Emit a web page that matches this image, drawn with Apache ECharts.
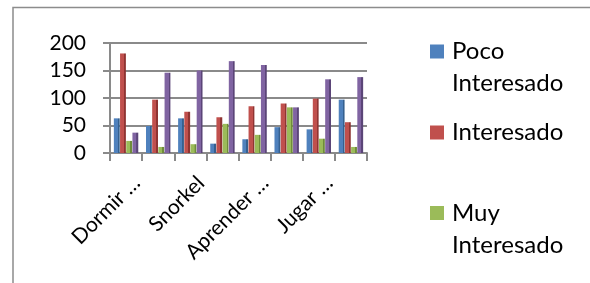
<!DOCTYPE html>
<html lang="es">
  <head>
    <meta charset="UTF-8" />
    <title>Interés por actividad</title>
    <script src="https://cdn.jsdelivr.net/npm/echarts@6/dist/echarts.min.js"></script>
    <style>
      body { margin: 0; background: #fff; }
      #chart { width: 590px; height: 283px; }
    </style>
  </head>
  <body>
    <div id="chart"></div>
  </body>
</html>
<script>
  // datos
  const categorias = ["Dormir …", "", "Snorkel", "", "Aprender …", "", "Jugar …", ""];
  const pocoInteresado = [63, 49, 63, 17, 25, 47, 43, 97];
  const interesado = [181, 97, 75, 65, 85, 90, 99, 56];
  const muyInteresado = [22, 11, 16, 53, 33, 83, 26, 11];
  const serie4 = [37, 146, 150, 167, 160, 83, 134, 138];
  const ticksY = [0, 50, 100, 150, 200];

  const fuente = "Lato";
  const gris = "#8a8a8a";

  // cara frontal + lateral más oscura (imitando columnas 3D)
  function relleno(base, oscuro) {
    return new echarts.graphic.LinearGradient(0, 0, 1, 0, [
      { offset: 0, color: base },
      { offset: 0.68, color: base },
      { offset: 0.7, color: oscuro },
      { offset: 1, color: oscuro },
    ]);
  }

  function serie(nombre, datos, base, oscuro) {
    return {
      name: nombre,
      type: "bar",
      data: datos,
      barGap: "6%",
      barCategoryGap: "24%",
      itemStyle: { color: relleno(base, oscuro) },
    };
  }

  // una leyenda por serie; la línea en blanco inicial deja el cuadro junto a la primera línea
  function leyenda(nombre, texto, color, top) {
    return {
      data: [nombre],
      orient: "vertical",
      left: 430,
      top: top,
      padding: 0,
      itemWidth: 14,
      itemHeight: 14,
      icon: "rect",
      itemStyle: { color: color },
      selectedMode: false,
      formatter: () => texto,
      textStyle: {
        fontFamily: fuente,
        fontSize: 24,
        color: "#000",
        lineHeight: 32,
        padding: [0, 0, 0, 3],
      },
    };
  }

  const chart = echarts.init(document.getElementById("chart"));
  const option = {
    animation: false,
    grid: { left: 110, right: 223, top: 43, bottom: 130 },
    legend: [
      leyenda("Poco Interesado", " \nPoco\nInteresado", "#4f81bd", 3.5),
      leyenda("Interesado", "Interesado", "#c0504d", 116.5),
      leyenda("Muy Interesado", " \nMuy\nInteresado", "#9bbb59", 165),
    ],
    xAxis: {
      type: "category",
      data: categorias,
      axisLine: { lineStyle: { color: gris, width: 2 } },
      axisTick: { show: true, interval: 0, length: 8, lineStyle: { color: gris, width: 2 } },
      axisLabel: {
        interval: 1,
        rotate: 45,
        margin: 16,
        verticalAlign: "top",
        lineHeight: 30,
        fontFamily: fuente,
        fontSize: 21,
        color: "#000",
      },
    },
    yAxis: {
      type: "value",
      min: ticksY[0],
      max: ticksY[ticksY.length - 1],
      interval: 50,
      axisLine: { show: true, lineStyle: { color: gris, width: 2 } },
      axisTick: { show: true, length: 7, lineStyle: { color: gris, width: 2 } },
      splitLine: { lineStyle: { color: gris, width: 2 } },
      axisLabel: {
        margin: 24,
        fontFamily: fuente,
        fontSize: 21,
        color: "#000",
      },
    },
    series: [
      serie("Poco Interesado", pocoInteresado, "#4f81bd", "#35608f"),
      serie("Interesado", interesado, "#c0504d", "#8f3432"),
      serie("Muy Interesado", muyInteresado, "#9bbb59", "#6f8c3a"),
      serie("Serie 4", serie4, "#8064a2", "#5b4578"),
    ],
    graphic: [
      {
        type: "rect",
        shape: { x: 13, y: 7.5, width: 700, height: 400 },
        style: { fill: "none", stroke: "#8c8c8c", lineWidth: 1.5 },
        silent: true,
      },
    ],
  };
  chart.setOption(option);
</script>
